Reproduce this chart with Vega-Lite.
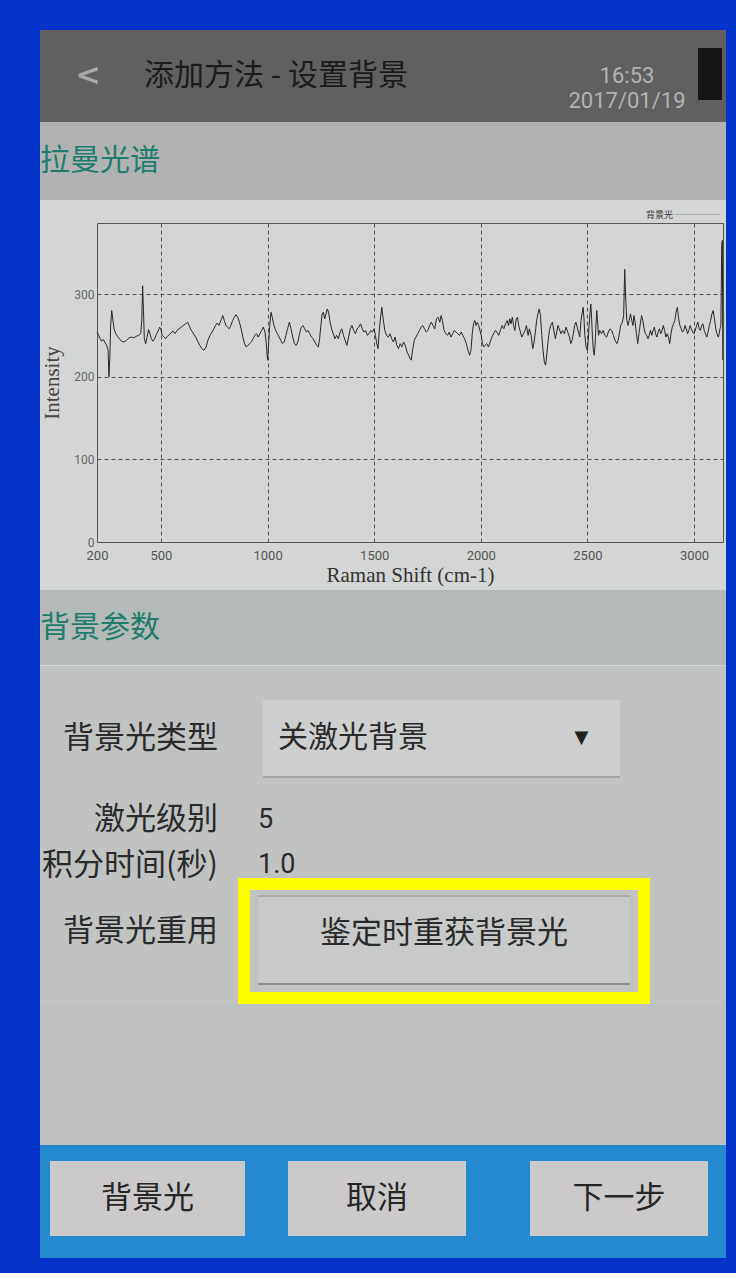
{
"$schema": "https://vega.github.io/schema/vega-lite/v6.json",
"background": "#0433c9",
"padding": {"left": 40, "top": 30, "right": 10, "bottom": 15},
"spacing": 0,
"config": {"view": {"stroke": null}, "concat": {"spacing": 0}, "text": {"font": "Noto Sans CJK SC"}},
"datasets": {"spec": [
{"shift":200,"intensity":254},{"shift":208,"intensity":250},{"shift":215,"intensity":246},{"shift":222,"intensity":243},{"shift":230,"intensity":245},{"shift":238,"intensity":241},{"shift":245,"intensity":238},{"shift":252,"intensity":232},{"shift":256,"intensity":200},{"shift":260,"intensity":222},{"shift":264,"intensity":262},{"shift":269,"intensity":280},{"shift":274,"intensity":270},{"shift":280,"intensity":258},{"shift":288,"intensity":252},{"shift":296,"intensity":249},{"shift":305,"intensity":246},{"shift":315,"intensity":243},{"shift":326,"intensity":242},{"shift":338,"intensity":244},{"shift":350,"intensity":247},{"shift":362,"intensity":248},{"shift":372,"intensity":247},{"shift":385,"intensity":249},{"shift":395,"intensity":250},{"shift":405,"intensity":252},{"shift":410,"intensity":268},{"shift":414,"intensity":310},{"shift":418,"intensity":280},{"shift":422,"intensity":246},{"shift":428,"intensity":240},{"shift":435,"intensity":248},{"shift":442,"intensity":257},{"shift":448,"intensity":252},{"shift":455,"intensity":246},{"shift":462,"intensity":243},{"shift":470,"intensity":246},{"shift":478,"intensity":251},{"shift":486,"intensity":255},{"shift":494,"intensity":260},{"shift":500,"intensity":257},{"shift":506,"intensity":250},{"shift":514,"intensity":248},{"shift":522,"intensity":246},{"shift":530,"intensity":249},{"shift":540,"intensity":251},{"shift":550,"intensity":254},{"shift":558,"intensity":255},{"shift":566,"intensity":252},{"shift":575,"intensity":256},{"shift":585,"intensity":258},{"shift":595,"intensity":260},{"shift":605,"intensity":262},{"shift":615,"intensity":264},{"shift":625,"intensity":266},{"shift":632,"intensity":262},{"shift":640,"intensity":257},{"shift":648,"intensity":254},{"shift":655,"intensity":251},{"shift":663,"intensity":248},{"shift":672,"intensity":243},{"shift":682,"intensity":238},{"shift":692,"intensity":234},{"shift":702,"intensity":232},{"shift":712,"intensity":236},{"shift":720,"intensity":244},{"shift":730,"intensity":250},{"shift":740,"intensity":254},{"shift":748,"intensity":258},{"shift":756,"intensity":262},{"shift":764,"intensity":265},{"shift":772,"intensity":262},{"shift":778,"intensity":266},{"shift":784,"intensity":270},{"shift":790,"intensity":274},{"shift":797,"intensity":268},{"shift":805,"intensity":262},{"shift":812,"intensity":260},{"shift":820,"intensity":258},{"shift":828,"intensity":262},{"shift":836,"intensity":268},{"shift":844,"intensity":272},{"shift":852,"intensity":275},{"shift":860,"intensity":272},{"shift":868,"intensity":266},{"shift":876,"intensity":258},{"shift":884,"intensity":248},{"shift":892,"intensity":240},{"shift":900,"intensity":236},{"shift":908,"intensity":238},{"shift":916,"intensity":240},{"shift":924,"intensity":242},{"shift":932,"intensity":246},{"shift":940,"intensity":250},{"shift":948,"intensity":252},{"shift":956,"intensity":248},{"shift":964,"intensity":252},{"shift":972,"intensity":256},{"shift":980,"intensity":260},{"shift":988,"intensity":254},{"shift":994,"intensity":240},{"shift":1000,"intensity":220},{"shift":1004,"intensity":236},{"shift":1010,"intensity":262},{"shift":1016,"intensity":278},{"shift":1022,"intensity":272},{"shift":1030,"intensity":262},{"shift":1038,"intensity":256},{"shift":1046,"intensity":252},{"shift":1054,"intensity":248},{"shift":1062,"intensity":244},{"shift":1070,"intensity":240},{"shift":1078,"intensity":242},{"shift":1086,"intensity":250},{"shift":1094,"intensity":258},{"shift":1102,"intensity":266},{"shift":1110,"intensity":258},{"shift":1118,"intensity":248},{"shift":1126,"intensity":240},{"shift":1134,"intensity":238},{"shift":1142,"intensity":242},{"shift":1150,"intensity":252},{"shift":1158,"intensity":260},{"shift":1166,"intensity":262},{"shift":1174,"intensity":258},{"shift":1182,"intensity":254},{"shift":1190,"intensity":256},{"shift":1198,"intensity":252},{"shift":1206,"intensity":248},{"shift":1214,"intensity":246},{"shift":1222,"intensity":242},{"shift":1230,"intensity":238},{"shift":1238,"intensity":236},{"shift":1244,"intensity":246},{"shift":1250,"intensity":262},{"shift":1256,"intensity":276},{"shift":1262,"intensity":278},{"shift":1268,"intensity":270},{"shift":1274,"intensity":276},{"shift":1280,"intensity":282},{"shift":1286,"intensity":278},{"shift":1292,"intensity":268},{"shift":1300,"intensity":258},{"shift":1308,"intensity":252},{"shift":1316,"intensity":246},{"shift":1324,"intensity":250},{"shift":1332,"intensity":246},{"shift":1340,"intensity":254},{"shift":1348,"intensity":258},{"shift":1356,"intensity":250},{"shift":1364,"intensity":244},{"shift":1372,"intensity":238},{"shift":1380,"intensity":248},{"shift":1388,"intensity":258},{"shift":1396,"intensity":262},{"shift":1404,"intensity":256},{"shift":1412,"intensity":252},{"shift":1420,"intensity":258},{"shift":1428,"intensity":260},{"shift":1436,"intensity":264},{"shift":1444,"intensity":258},{"shift":1452,"intensity":254},{"shift":1460,"intensity":256},{"shift":1468,"intensity":250},{"shift":1476,"intensity":252},{"shift":1484,"intensity":256},{"shift":1492,"intensity":254},{"shift":1500,"intensity":258},{"shift":1506,"intensity":250},{"shift":1512,"intensity":240},{"shift":1518,"intensity":234},{"shift":1524,"intensity":256},{"shift":1530,"intensity":272},{"shift":1536,"intensity":284},{"shift":1542,"intensity":270},{"shift":1550,"intensity":256},{"shift":1558,"intensity":250},{"shift":1566,"intensity":248},{"shift":1574,"intensity":252},{"shift":1582,"intensity":246},{"shift":1590,"intensity":242},{"shift":1598,"intensity":248},{"shift":1606,"intensity":238},{"shift":1614,"intensity":234},{"shift":1622,"intensity":240},{"shift":1630,"intensity":236},{"shift":1638,"intensity":242},{"shift":1646,"intensity":238},{"shift":1654,"intensity":230},{"shift":1662,"intensity":226},{"shift":1668,"intensity":222},{"shift":1674,"intensity":220},{"shift":1680,"intensity":232},{"shift":1688,"intensity":244},{"shift":1696,"intensity":248},{"shift":1704,"intensity":252},{"shift":1712,"intensity":256},{"shift":1720,"intensity":260},{"shift":1728,"intensity":262},{"shift":1736,"intensity":258},{"shift":1744,"intensity":254},{"shift":1752,"intensity":256},{"shift":1760,"intensity":262},{"shift":1768,"intensity":266},{"shift":1776,"intensity":262},{"shift":1784,"intensity":258},{"shift":1792,"intensity":270},{"shift":1800,"intensity":272},{"shift":1808,"intensity":266},{"shift":1814,"intensity":274},{"shift":1820,"intensity":268},{"shift":1828,"intensity":256},{"shift":1836,"intensity":252},{"shift":1844,"intensity":250},{"shift":1852,"intensity":254},{"shift":1860,"intensity":248},{"shift":1868,"intensity":252},{"shift":1876,"intensity":256},{"shift":1884,"intensity":254},{"shift":1892,"intensity":252},{"shift":1900,"intensity":250},{"shift":1908,"intensity":254},{"shift":1916,"intensity":250},{"shift":1924,"intensity":246},{"shift":1932,"intensity":240},{"shift":1940,"intensity":232},{"shift":1948,"intensity":226},{"shift":1954,"intensity":232},{"shift":1960,"intensity":252},{"shift":1966,"intensity":264},{"shift":1972,"intensity":268},{"shift":1978,"intensity":262},{"shift":1984,"intensity":266},{"shift":1990,"intensity":262},{"shift":1996,"intensity":256},{"shift":2002,"intensity":250},{"shift":2008,"intensity":240},{"shift":2014,"intensity":236},{"shift":2020,"intensity":238},{"shift":2028,"intensity":240},{"shift":2036,"intensity":236},{"shift":2044,"intensity":242},{"shift":2052,"intensity":248},{"shift":2060,"intensity":252},{"shift":2068,"intensity":256},{"shift":2076,"intensity":254},{"shift":2084,"intensity":250},{"shift":2092,"intensity":256},{"shift":2100,"intensity":262},{"shift":2108,"intensity":258},{"shift":2116,"intensity":264},{"shift":2124,"intensity":268},{"shift":2130,"intensity":262},{"shift":2136,"intensity":270},{"shift":2142,"intensity":264},{"shift":2148,"intensity":272},{"shift":2154,"intensity":262},{"shift":2160,"intensity":256},{"shift":2166,"intensity":270},{"shift":2172,"intensity":272},{"shift":2178,"intensity":262},{"shift":2184,"intensity":256},{"shift":2192,"intensity":248},{"shift":2200,"intensity":252},{"shift":2208,"intensity":256},{"shift":2214,"intensity":262},{"shift":2222,"intensity":250},{"shift":2228,"intensity":258},{"shift":2236,"intensity":250},{"shift":2244,"intensity":234},{"shift":2250,"intensity":242},{"shift":2256,"intensity":254},{"shift":2262,"intensity":268},{"shift":2268,"intensity":276},{"shift":2274,"intensity":282},{"shift":2280,"intensity":274},{"shift":2286,"intensity":250},{"shift":2292,"intensity":232},{"shift":2298,"intensity":218},{"shift":2304,"intensity":214},{"shift":2310,"intensity":228},{"shift":2316,"intensity":244},{"shift":2322,"intensity":256},{"shift":2328,"intensity":262},{"shift":2336,"intensity":266},{"shift":2344,"intensity":254},{"shift":2350,"intensity":246},{"shift":2356,"intensity":254},{"shift":2362,"intensity":262},{"shift":2368,"intensity":258},{"shift":2376,"intensity":252},{"shift":2384,"intensity":256},{"shift":2392,"intensity":252},{"shift":2400,"intensity":260},{"shift":2408,"intensity":254},{"shift":2416,"intensity":248},{"shift":2422,"intensity":240},{"shift":2428,"intensity":244},{"shift":2434,"intensity":252},{"shift":2440,"intensity":262},{"shift":2446,"intensity":266},{"shift":2452,"intensity":260},{"shift":2458,"intensity":254},{"shift":2464,"intensity":248},{"shift":2470,"intensity":268},{"shift":2476,"intensity":278},{"shift":2480,"intensity":284},{"shift":2484,"intensity":270},{"shift":2488,"intensity":250},{"shift":2494,"intensity":236},{"shift":2500,"intensity":232},{"shift":2504,"intensity":244},{"shift":2508,"intensity":262},{"shift":2512,"intensity":276},{"shift":2516,"intensity":288},{"shift":2520,"intensity":270},{"shift":2524,"intensity":246},{"shift":2528,"intensity":232},{"shift":2532,"intensity":226},{"shift":2536,"intensity":238},{"shift":2540,"intensity":262},{"shift":2544,"intensity":280},{"shift":2548,"intensity":266},{"shift":2552,"intensity":250},{"shift":2558,"intensity":256},{"shift":2566,"intensity":252},{"shift":2574,"intensity":256},{"shift":2582,"intensity":250},{"shift":2590,"intensity":248},{"shift":2598,"intensity":254},{"shift":2606,"intensity":258},{"shift":2614,"intensity":256},{"shift":2622,"intensity":250},{"shift":2630,"intensity":244},{"shift":2638,"intensity":240},{"shift":2644,"intensity":244},{"shift":2650,"intensity":252},{"shift":2656,"intensity":262},{"shift":2664,"intensity":266},{"shift":2670,"intensity":274},{"shift":2675,"intensity":330},{"shift":2679,"intensity":300},{"shift":2684,"intensity":270},{"shift":2690,"intensity":262},{"shift":2696,"intensity":268},{"shift":2702,"intensity":276},{"shift":2708,"intensity":268},{"shift":2714,"intensity":262},{"shift":2718,"intensity":274},{"shift":2724,"intensity":266},{"shift":2730,"intensity":252},{"shift":2736,"intensity":240},{"shift":2742,"intensity":252},{"shift":2748,"intensity":264},{"shift":2754,"intensity":274},{"shift":2760,"intensity":268},{"shift":2766,"intensity":258},{"shift":2772,"intensity":252},{"shift":2778,"intensity":250},{"shift":2784,"intensity":246},{"shift":2790,"intensity":250},{"shift":2796,"intensity":256},{"shift":2802,"intensity":250},{"shift":2808,"intensity":256},{"shift":2814,"intensity":260},{"shift":2820,"intensity":252},{"shift":2826,"intensity":248},{"shift":2832,"intensity":254},{"shift":2838,"intensity":258},{"shift":2844,"intensity":252},{"shift":2850,"intensity":256},{"shift":2856,"intensity":262},{"shift":2862,"intensity":256},{"shift":2868,"intensity":248},{"shift":2874,"intensity":252},{"shift":2880,"intensity":248},{"shift":2886,"intensity":240},{"shift":2892,"intensity":252},{"shift":2898,"intensity":260},{"shift":2904,"intensity":264},{"shift":2910,"intensity":268},{"shift":2916,"intensity":278},{"shift":2922,"intensity":284},{"shift":2928,"intensity":270},{"shift":2934,"intensity":262},{"shift":2940,"intensity":258},{"shift":2946,"intensity":254},{"shift":2952,"intensity":256},{"shift":2958,"intensity":262},{"shift":2964,"intensity":258},{"shift":2970,"intensity":252},{"shift":2976,"intensity":256},{"shift":2982,"intensity":262},{"shift":2988,"intensity":258},{"shift":2994,"intensity":254},{"shift":3000,"intensity":252},{"shift":3006,"intensity":256},{"shift":3012,"intensity":262},{"shift":3018,"intensity":266},{"shift":3024,"intensity":258},{"shift":3030,"intensity":256},{"shift":3036,"intensity":262},{"shift":3042,"intensity":264},{"shift":3048,"intensity":256},{"shift":3054,"intensity":252},{"shift":3060,"intensity":248},{"shift":3066,"intensity":254},{"shift":3072,"intensity":262},{"shift":3078,"intensity":268},{"shift":3084,"intensity":276},{"shift":3090,"intensity":280},{"shift":3096,"intensity":270},{"shift":3102,"intensity":258},{"shift":3108,"intensity":252},{"shift":3114,"intensity":248},{"shift":3118,"intensity":252},{"shift":3122,"intensity":258},{"shift":3126,"intensity":262},{"shift":3130,"intensity":360},{"shift":3133,"intensity":365},{"shift":3135,"intensity":220}
]},
"vconcat": [
 {"hconcat": [
  {"width": 96, "height": 92, "view": {"fill": "#606060"}, "data": {"values": [{"t": "<"}]}, "mark": {"type": "text", "font": "DejaVu Sans", "fontSize": 30, "fontWeight": "bold", "color": "#a9a9a9"}, "encoding": {"text": {"field": "t"}}},
  {"width": 280, "height": 92, "view": {"fill": "#606060"}, "data": {"values": [{"t": "添加方法 - 设置背景"}]}, "mark": {"type": "text", "fontSize": 30, "color": "#1c1c1c"}, "encoding": {"text": {"field": "t"}}},
  {"width": 144, "height": 92, "view": {"fill": "#606060"}, "data": {"values": []}, "mark": "text"},
  {"width": 134, "height": 92, "view": {"fill": "#606060"}, "data": {"values": [{"t": "16:53\n2017/01/19"}]}, "mark": {"type": "text", "font": "Roboto", "fontSize": 22, "color": "#b3b3b3", "lineBreak": "\n", "lineHeight": 25}, "encoding": {"text": {"field": "t"}}},
  {"hconcat": [
   {"width": 4, "height": 92, "view": {"fill": "#606060"}, "data": {"values": []}, "mark": "text"},
   {"vconcat": [
    {"width": 24, "height": 18, "view": {"fill": "#606060"}, "data": {"values": []}, "mark": "text"},
    {"width": 24, "height": 52, "view": {"fill": "#161616"}, "data": {"values": []}, "mark": "text"},
    {"width": 24, "height": 22, "view": {"fill": "#606060"}, "data": {"values": []}, "mark": "text"}
   ]},
   {"width": 4, "height": 92, "view": {"fill": "#606060"}, "data": {"values": []}, "mark": "text"}
  ]}
 ]},
 {"width": 686, "height": 78, "view": {"fill": "#b1b3b2"}, "data": {"values": [{"t": "拉曼光谱"}]}, "mark": {"type": "text", "align": "left", "fontSize": 30, "color": "#1e7d6d"}, "encoding": {"text": {"field": "t"}, "x": {"value": 0}}},
 {"width": 686, "height": 390, "view": {"fill": "#d3d6d4"}, "data": {"name": "spec"},
  "title": {"text": "背景光 ─────", "anchor": "end", "orient": "top", "frame": "group", "offset": -20, "dx": -6, "font": "Noto Sans CJK SC", "fontSize": 9, "fontWeight": "normal", "color": "#333333"},
  "layer": [
   {"mark": {"type": "line", "strokeWidth": 1, "color": "#262626"},
    "encoding": {
     "x": {"field": "shift", "type": "quantitative", "scale": {"domain": [200, 3136], "range": [57, 683], "nice": false, "zero": false},
      "axis": {"orient": "bottom", "offset": -48, "values": [200, 500, 1000, 1500, 2000, 2500, 3000], "format": "d", "grid": false, "ticks": false, "domain": true, "domainColor": "#555555", "labelFlush": false, "labelFont": "Roboto", "labelFontSize": 13, "labelColor": "#555555", "labelPadding": 7, "title": "Raman Shift (cm-1)", "titleFont": "Liberation Serif", "titleFontSize": 21, "titleFontWeight": "normal", "titleColor": "#333333", "titlePadding": 2}},
     "y": {"field": "intensity", "type": "quantitative", "scale": {"domain": [0, 386], "range": [342, 23], "nice": false},
      "axis": {"orient": "left", "offset": -57, "values": [0, 100, 200, 300], "grid": true, "gridDash": [4, 3], "gridColor": "#555555", "gridWidth": 1, "ticks": false, "domain": true, "domainColor": "#555555", "labelFont": "Roboto", "labelFontSize": 12, "labelColor": "#666666", "labelPadding": 3, "title": "Intensity", "titleFont": "Liberation Serif", "titleFontSize": 21, "titleFontWeight": "normal", "titleColor": "#444444", "titlePadding": 11}}
    }},
   {"mark": {"type": "line", "opacity": 0},
    "encoding": {
     "x": {"field": "shift", "type": "quantitative", "axis": {"orient": "top", "offset": -23, "values": [500, 1000, 1500, 2000, 2500, 3000], "grid": true, "gridDash": [4, 3], "gridColor": "#555555", "gridWidth": 1, "labels": false, "ticks": false, "domain": true, "domainColor": "#555555", "title": null}},
     "y": {"field": "intensity", "type": "quantitative", "axis": {"orient": "right", "offset": -3, "grid": false, "labels": false, "ticks": false, "domain": true, "domainColor": "#555555", "title": null}}
    }}
  ],
  "resolve": {"axis": {"x": "independent", "y": "independent"}}
 },
 {"width": 686, "height": 75, "view": {"fill": "#b4bab7"}, "data": {"values": [{"t": "背景参数"}]}, "mark": {"type": "text", "align": "left", "fontSize": 30, "color": "#1e7d6d"}, "encoding": {"text": {"field": "t"}, "x": {"value": 0}}},
 {"vconcat": [
  {"width": 686, "height": 1, "view": {"fill": "#d2d5d3"}, "data": {"values": []}, "mark": "text"},
  {"width": 686, "height": 34, "view": {"fill": "#c0c3c1"}, "data": {"values": []}, "mark": "text"},
  {"hconcat": [
   {"width": 178, "height": 78, "view": {"fill": "#c0c3c1"}, "data": {"values": [{"t": "背景光类型"}]}, "mark": {"type": "text", "align": "right", "fontSize": 31, "color": "#2a2a2a"}, "encoding": {"text": {"field": "t"}, "x": {"value": "width"}}},
   {"width": 45, "height": 78, "view": {"fill": "#c0c3c1"}, "data": {"values": []}, "mark": "text"},
   {"vconcat": [
    {"hconcat": [
     {"width": 15, "height": 76, "view": {"fill": "#cdd0ce"}, "data": {"values": []}, "mark": "text"},
     {"width": 265, "height": 76, "view": {"fill": "#cdd0ce"}, "data": {"values": [{"t": "关激光背景"}]}, "mark": {"type": "text", "align": "left", "fontSize": 30, "color": "#2a2a2a"}, "encoding": {"text": {"field": "t"}, "x": {"value": 0}}},
     {"width": 77, "height": 76, "view": {"fill": "#cdd0ce"}, "data": {"values": [{"t": "▼"}]}, "mark": {"type": "text", "font": "DejaVu Sans", "fontSize": 18, "color": "#222222"}, "encoding": {"text": {"field": "t"}}}
    ]},
    {"width": 357, "height": 2, "view": {"fill": "#a3a6a4"}, "data": {"values": []}, "mark": "text"}
   ]},
   {"width": 106, "height": 78, "view": {"fill": "#c0c3c1"}, "data": {"values": []}, "mark": "text"}
  ]},
  {"width": 686, "height": 17, "view": {"fill": "#c0c3c1"}, "data": {"values": []}, "mark": "text"},
  {"hconcat": [
   {"width": 178, "height": 50, "view": {"fill": "#c0c3c1"}, "data": {"values": [{"t": "激光级别"}]}, "mark": {"type": "text", "align": "right", "fontSize": 31, "color": "#2a2a2a"}, "encoding": {"text": {"field": "t"}, "x": {"value": "width"}}},
   {"width": 40, "height": 50, "view": {"fill": "#c0c3c1"}, "data": {"values": []}, "mark": "text"},
   {"width": 468, "height": 50, "view": {"fill": "#c0c3c1"}, "data": {"values": [{"t": "5"}]}, "mark": {"type": "text", "align": "left", "font": "Roboto", "fontSize": 27, "color": "#2a2a2a"}, "encoding": {"text": {"field": "t"}, "x": {"value": 0}}}
  ]},
  {"hconcat": [
   {"vconcat": [
    {"width": 178, "height": 42, "view": {"fill": "#c0c3c1"}, "data": {"values": [{"t": "积分时间(秒)"}]}, "mark": {"type": "text", "align": "right", "fontSize": 31, "color": "#2a2a2a"}, "encoding": {"text": {"field": "t"}, "x": {"value": "width"}}},
    {"width": 178, "height": 20, "view": {"fill": "#c0c3c1"}, "data": {"values": []}, "mark": "text"},
    {"width": 178, "height": 50, "view": {"fill": "#c0c3c1"}, "data": {"values": [{"t": "背景光重用"}]}, "mark": {"type": "text", "align": "right", "fontSize": 31, "color": "#2a2a2a"}, "encoding": {"text": {"field": "t"}, "x": {"value": "width"}}},
    {"width": 178, "height": 47, "view": {"fill": "#c0c3c1"}, "data": {"values": []}, "mark": "text"}
   ]},
   {"width": 20, "height": 159, "view": {"fill": "#c0c3c1"}, "data": {"values": []}, "mark": "text"},
   {"vconcat": [
    {"hconcat": [
     {"width": 20, "height": 33, "view": {"fill": "#c0c3c1"}, "data": {"values": []}, "mark": "text"},
     {"width": 392, "height": 33, "view": {"fill": "#c0c3c1"}, "data": {"values": [{"t": "1.0"}]}, "mark": {"type": "text", "align": "left", "font": "Roboto", "fontSize": 27, "color": "#2a2a2a", "dy": 3}, "encoding": {"text": {"field": "t"}, "x": {"value": 0}}}
    ]},
    {"width": 412, "height": 12, "view": {"fill": "#ffff00"}, "data": {"values": []}, "mark": "text"},
    {"hconcat": [
     {"width": 12, "height": 102, "view": {"fill": "#ffff00"}, "data": {"values": []}, "mark": "text"},
     {"width": 8, "height": 102, "view": {"fill": "#c0c3c1"}, "data": {"values": []}, "mark": "text"},
     {"vconcat": [
      {"width": 372, "height": 5, "view": {"fill": "#c0c3c1"}, "data": {"values": []}, "mark": "text"},
      {"width": 372, "height": 2, "view": {"fill": "#a9acaa"}, "data": {"values": []}, "mark": "text"},
      {"width": 372, "height": 86, "view": {"fill": "#c7cac8"}, "data": {"values": [{"t": "鉴定时重获背景光"}]}, "mark": {"type": "text", "fontSize": 31, "color": "#2a2a2a", "dy": -6}, "encoding": {"text": {"field": "t"}}},
      {"width": 372, "height": 2, "view": {"fill": "#8d908e"}, "data": {"values": []}, "mark": "text"},
      {"width": 372, "height": 7, "view": {"fill": "#c0c3c1"}, "data": {"values": []}, "mark": "text"}
     ]},
     {"width": 8, "height": 102, "view": {"fill": "#c0c3c1"}, "data": {"values": []}, "mark": "text"},
     {"width": 12, "height": 102, "view": {"fill": "#ffff00"}, "data": {"values": []}, "mark": "text"}
    ]},
    {"width": 412, "height": 12, "view": {"fill": "#ffff00"}, "data": {"values": []}, "mark": "text"}
   ]},
   {"width": 76, "height": 159, "view": {"fill": "#c0c3c1"}, "data": {"values": []}, "mark": "text"}
  ]},
  {"width": 686, "height": 141, "view": {"fill": "#bec1bf"}, "data": {"values": []}, "mark": "text"}
 ]},
 {"vconcat": [
  {"width": 686, "height": 16, "view": {"fill": "#2589d0"}, "data": {"values": []}, "mark": "text"},
  {"hconcat": [
   {"width": 10, "height": 75, "view": {"fill": "#2589d0"}, "data": {"values": []}, "mark": "text"},
   {"width": 195, "height": 75, "view": {"fill": "#cbc9c9"}, "data": {"values": [{"t": "背景光"}]}, "mark": {"type": "text", "fontSize": 31, "color": "#262626"}, "encoding": {"text": {"field": "t"}}},
   {"width": 43, "height": 75, "view": {"fill": "#2589d0"}, "data": {"values": []}, "mark": "text"},
   {"width": 178, "height": 75, "view": {"fill": "#cbc9c9"}, "data": {"values": [{"t": "取消"}]}, "mark": {"type": "text", "fontSize": 31, "color": "#262626"}, "encoding": {"text": {"field": "t"}}},
   {"width": 64, "height": 75, "view": {"fill": "#2589d0"}, "data": {"values": []}, "mark": "text"},
   {"width": 178, "height": 75, "view": {"fill": "#cbc9c9"}, "data": {"values": [{"t": "下一步"}]}, "mark": {"type": "text", "fontSize": 31, "color": "#262626"}, "encoding": {"text": {"field": "t"}}},
   {"width": 18, "height": 75, "view": {"fill": "#2589d0"}, "data": {"values": []}, "mark": "text"}
  ]},
  {"width": 686, "height": 22, "view": {"fill": "#2589d0"}, "data": {"values": []}, "mark": "text"}
 ]}
]
}
